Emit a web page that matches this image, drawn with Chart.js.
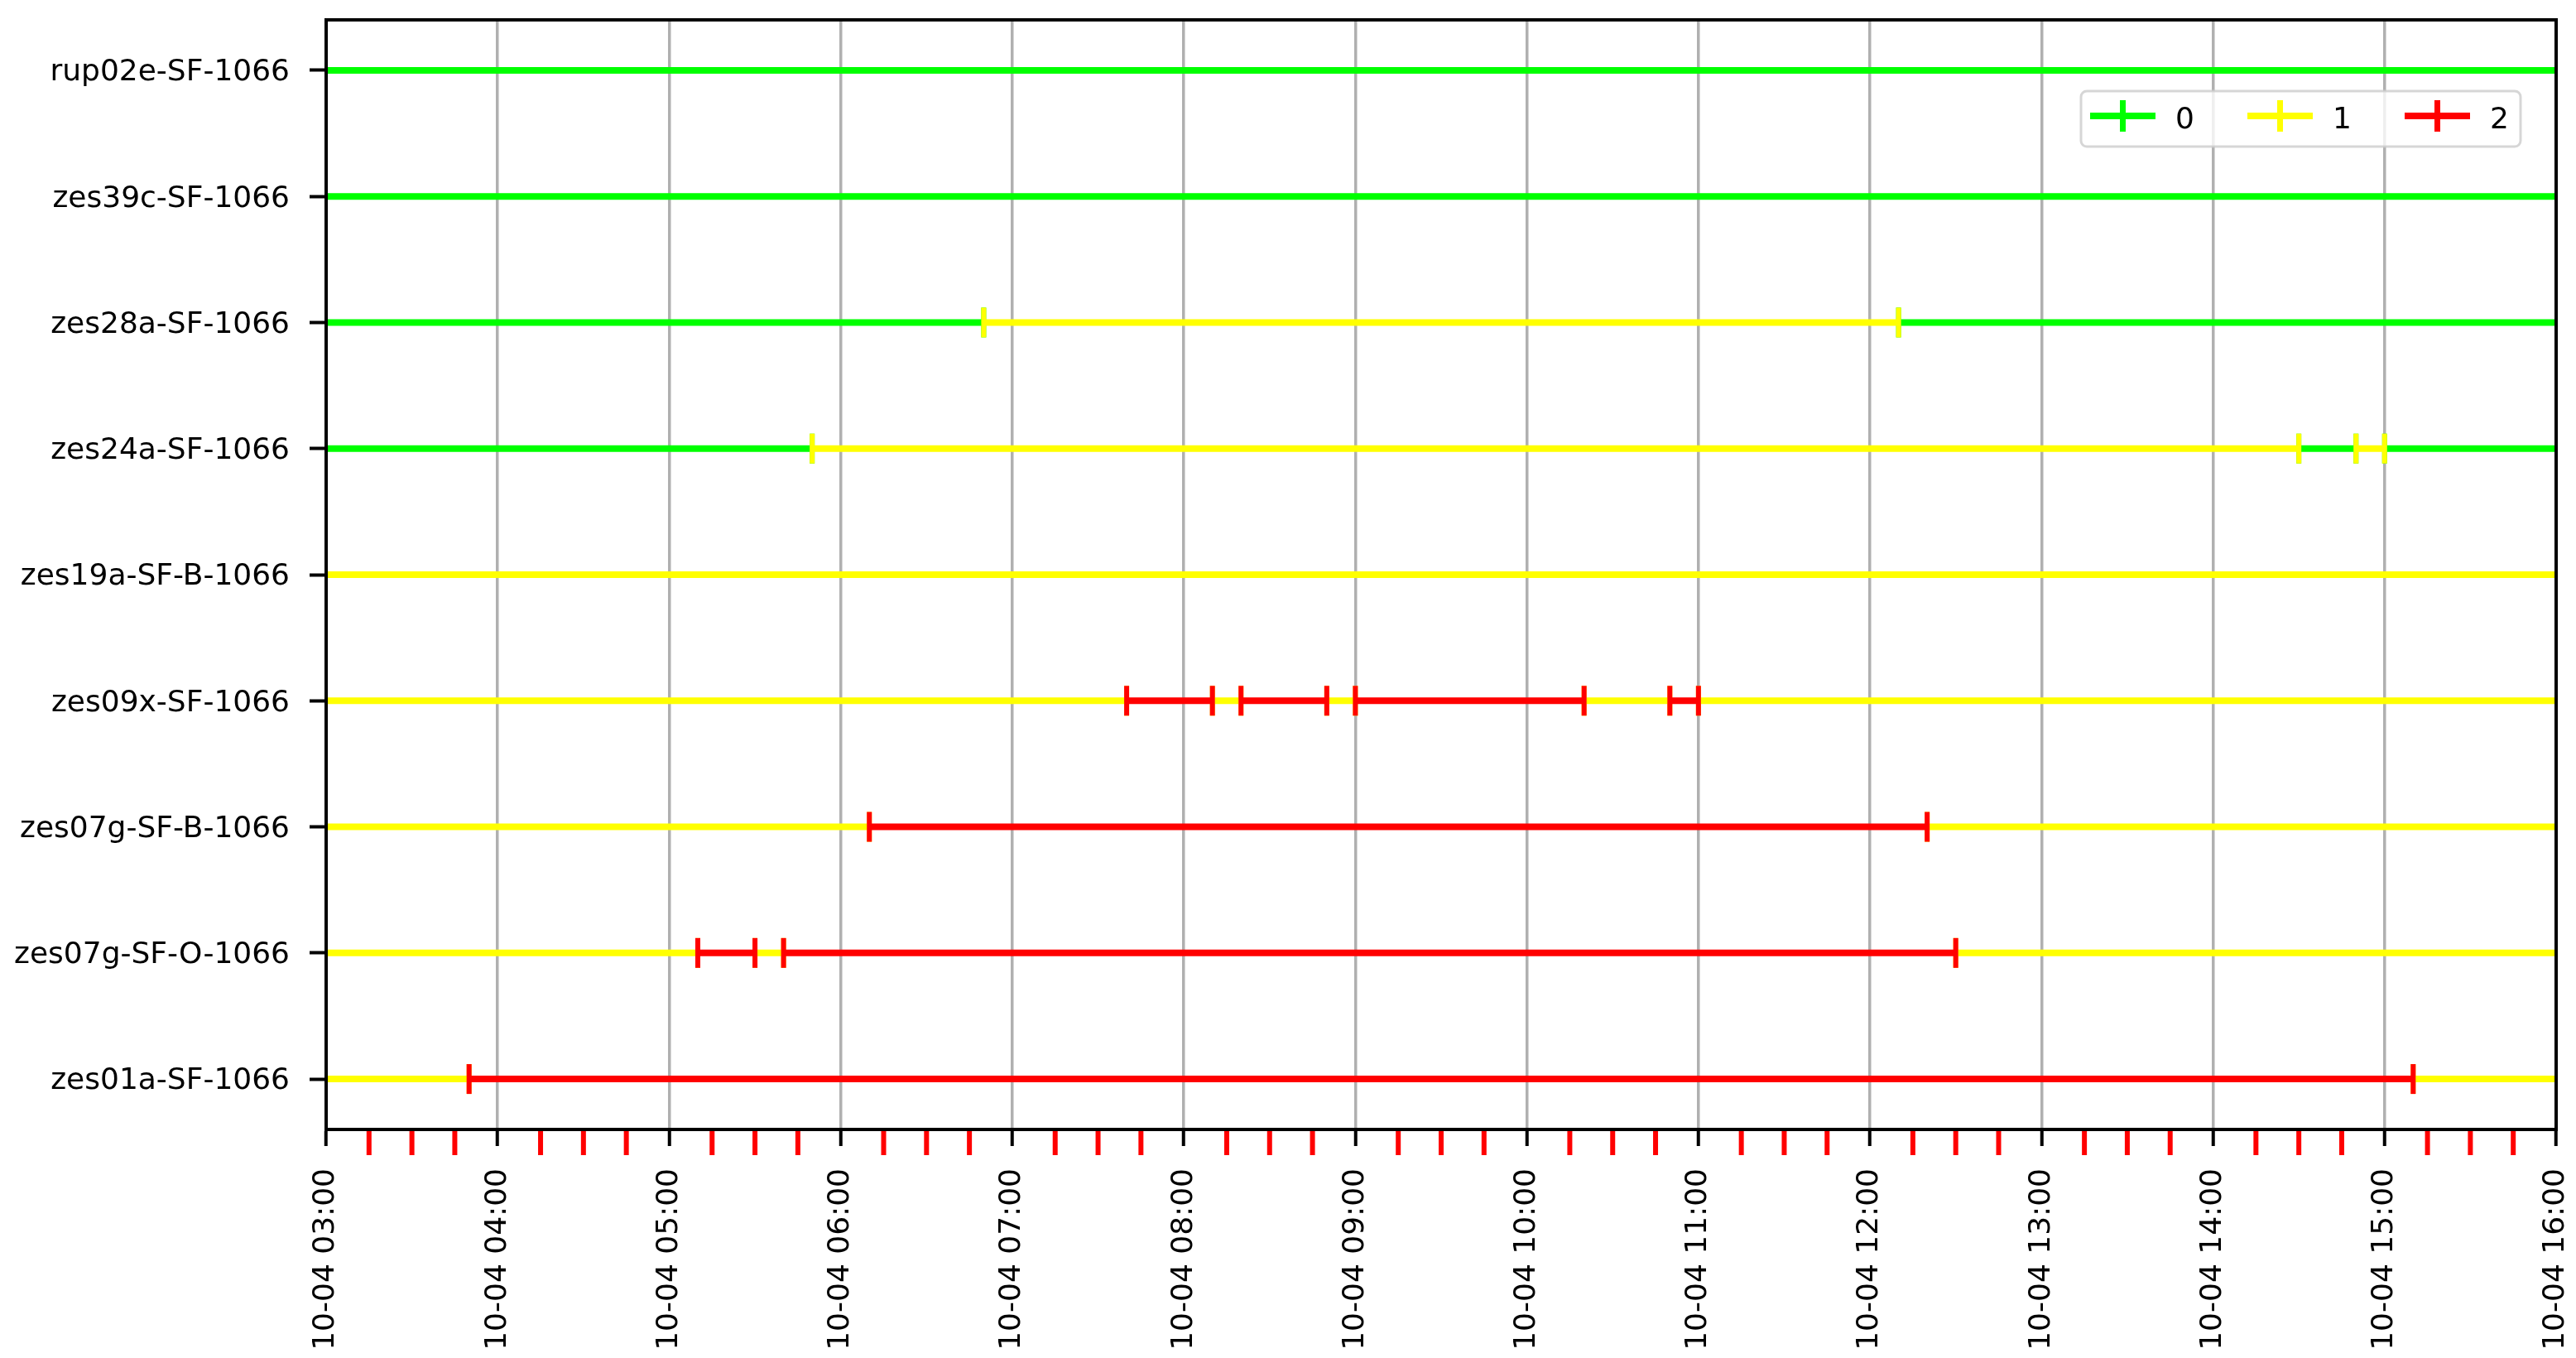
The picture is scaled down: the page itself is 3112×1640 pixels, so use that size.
<!DOCTYPE html>
<html>
<head>
<meta charset="utf-8">
<title>Host state timeline</title>
<script src="https://cdn.jsdelivr.net/npm/chart.js@4.4.1/dist/chart.umd.min.js"></script>
<style>
  html, body { margin: 0; padding: 0; background: #fff; }
  canvas { display: block; }
</style>
</head>
<body>
<canvas id="stateChart" width="3112" height="1640"></canvas>
<script>
// hosts, top row first
const hosts = [
    'rup02e-SF-1066',
    'zes39c-SF-1066',
    'zes28a-SF-1066',
    'zes24a-SF-1066',
    'zes19a-SF-B-1066',
    'zes09x-SF-1066',
    'zes07g-SF-B-1066',
    'zes07g-SF-O-1066',
    'zes01a-SF-1066'
];

const stateLabels = ['0', '1', '2'];
const stateColors = ['#00ff00', '#ffff00', '#ff0000'];

const tickHours = [3, 4, 5, 6, 7, 8, 9, 10, 11, 12, 13, 14, 15, 16];
const tickLabels = [
    '10-04 03:00', '10-04 04:00', '10-04 05:00', '10-04 06:00', '10-04 07:00',
    '10-04 08:00', '10-04 09:00', '10-04 10:00', '10-04 11:00', '10-04 12:00',
    '10-04 13:00', '10-04 14:00', '10-04 15:00', '10-04 16:00'
];

// one entry per state interval (intervals that run off the window start/end outside it)
const segRow = [
    0,
    1,
    2, 2, 2,
    3, 3, 3, 3, 3,
    4,
    5, 5, 5, 5, 5, 5, 5, 5, 5,
    6, 6, 6,
    7, 7, 7, 7, 7,
    8, 8, 8
];
const segStart = [
    '02:00',
    '02:00',
    '02:00', '06:50', '12:10',
    '02:00', '05:50', '14:30', '14:50', '15:00',
    '02:00',
    '02:00', '07:40', '08:10', '08:20', '08:50', '09:00', '10:20', '10:50', '11:00',
    '02:00', '06:10', '12:20',
    '02:00', '05:10', '05:30', '05:40', '12:30',
    '02:00', '03:50', '15:10'
];
const segEnd = [
    '17:00',
    '17:00',
    '06:50', '12:10', '17:00',
    '05:50', '14:30', '14:50', '15:00', '17:00',
    '17:00',
    '07:40', '08:10', '08:20', '08:50', '09:00', '10:20', '10:50', '11:00', '17:00',
    '06:10', '12:20', '17:00',
    '05:10', '05:30', '05:40', '12:30', '17:00',
    '03:50', '15:10', '17:00'
];
const segState = [
    0,
    0,
    0, 1, 0,
    0, 1, 0, 1, 0,
    1,
    1, 2, 1, 2, 1, 2, 1, 2, 1,
    1, 2, 1,
    1, 2, 1, 2, 1,
    1, 2, 1
];

const FONT = { family: 'DejaVu Sans', size: 36 };

function toHours(t) {
    const [h, m] = t.split(':').map(Number);
    return h + m / 60;
}

// one dataset per state, intervals separated by gaps
const datasets = stateLabels.map((label, s) => {
    const pts = [];
    segState.forEach((st, i) => {
        if (st !== s) return;
        pts.push({ x: toHours(segStart[i]), y: segRow[i] });
        pts.push({ x: toHours(segEnd[i]), y: segRow[i] });
        pts.push({ x: null, y: null });
    });
    return {
        label: label,
        data: pts,
        borderColor: stateColors[s],
        backgroundColor: stateColors[s],
        borderWidth: 8,
        pointStyle: 'line',
        pointRotation: 90,
        pointRadius: 18,
        pointHoverRadius: 18,
        pointBorderWidth: 6,
        pointBorderColor: stateColors[s],
        spanGaps: false,
        tension: 0,
        clip: 0,
        order: stateLabels.length - s
    };
});

const framePlugin = {
    id: 'frame',
    afterDraw(chart) {
        const { ctx, chartArea: a, scales: { x } } = chart;
        ctx.save();

        // red minor ticks every 15 minutes
        ctx.strokeStyle = '#ff0000';
        ctx.lineWidth = 6;
        for (let m = x.min * 60 + 15; m < x.max * 60; m += 15) {
            if (m % 60 === 0) continue;
            const px = x.getPixelForValue(m / 60);
            ctx.beginPath();
            ctx.moveTo(px, a.bottom);
            ctx.lineTo(px, a.bottom + 31);
            ctx.stroke();
        }

        // spines
        ctx.strokeStyle = '#000';
        ctx.lineWidth = 4;
        ctx.strokeRect(a.left, a.top, a.right - a.left, a.bottom - a.top);

        // legend box, upper right
        const lw = 531, lh = 67;
        const lx = a.right - 43 - lw, ly = a.top + 86;
        ctx.beginPath();
        ctx.roundRect(lx, ly, lw, lh, 7);
        ctx.fillStyle = 'rgba(255,255,255,0.8)';
        ctx.fill();
        ctx.strokeStyle = 'rgba(204,204,204,0.8)';
        ctx.lineWidth = 3;
        ctx.stroke();

        ctx.font = FONT.size + 'px ' + FONT.family;
        ctx.textBaseline = 'alphabetic';
        chart.data.datasets.forEach((ds, i) => {
            const x0 = lx + 11 + i * 190;
            const yc = ly + 30;
            ctx.strokeStyle = ds.borderColor;
            ctx.lineWidth = 8;
            ctx.beginPath();
            ctx.moveTo(x0, yc);
            ctx.lineTo(x0 + 79, yc);
            ctx.stroke();
            ctx.lineWidth = 7;
            ctx.beginPath();
            ctx.moveTo(x0 + 39.5, yc - 19);
            ctx.lineTo(x0 + 39.5, yc + 19);
            ctx.stroke();
            ctx.fillStyle = '#000';
            ctx.fillText(ds.label, x0 + 103, ly + 45);
        });

        ctx.restore();
    }
};

const ctx = document.getElementById('stateChart').getContext('2d');
const stateChart = new Chart(ctx, {
    type: 'line',
    data: { datasets: datasets },
    options: {
        responsive: false,
        animation: false,
        devicePixelRatio: 1,
        layout: {
            padding: { top: 24, right: 23, left: 0, bottom: 0 }
        },
        plugins: {
            legend: { display: false },
            tooltip: { enabled: false }
        },
        scales: {
            x: {
                type: 'linear',
                min: 3,
                max: 16,
                afterBuildTicks: s => { s.ticks = tickHours.map(v => ({ value: v })); },
                afterFit: s => {
                    s.height = 276;
                    s.paddingLeft = 0;
                    s.paddingRight = 0;
                },
                ticks: {
                    callback: v => tickLabels[tickHours.indexOf(v)],
                    autoSkip: false,
                    minRotation: 90,
                    maxRotation: 90,
                    padding: 27,
                    color: '#000',
                    font: FONT
                },
                grid: {
                    color: '#b0b0b0',
                    lineWidth: 3.5,
                    tickColor: '#000',
                    tickWidth: 4,
                    tickLength: 20
                },
                border: { color: '#000', width: 4 }
            },
            y: {
                type: 'linear',
                reverse: true,
                min: -0.4,
                max: hosts.length - 0.6,
                afterBuildTicks: s => { s.ticks = hosts.map((_, i) => ({ value: i })); },
                afterFit: s => {
                    s.width = 394;
                    s.paddingTop = 0;
                    s.paddingBottom = 0;
                },
                ticks: {
                    callback: v => hosts[v],
                    autoSkip: false,
                    padding: 24,
                    labelOffset: 3,
                    color: '#000',
                    font: FONT
                },
                grid: {
                    drawOnChartArea: false,
                    tickColor: '#000',
                    tickWidth: 4,
                    tickLength: 20
                },
                border: { color: '#000', width: 4 }
            }
        }
    },
    plugins: [framePlugin]
});
</script>
</body>
</html>
